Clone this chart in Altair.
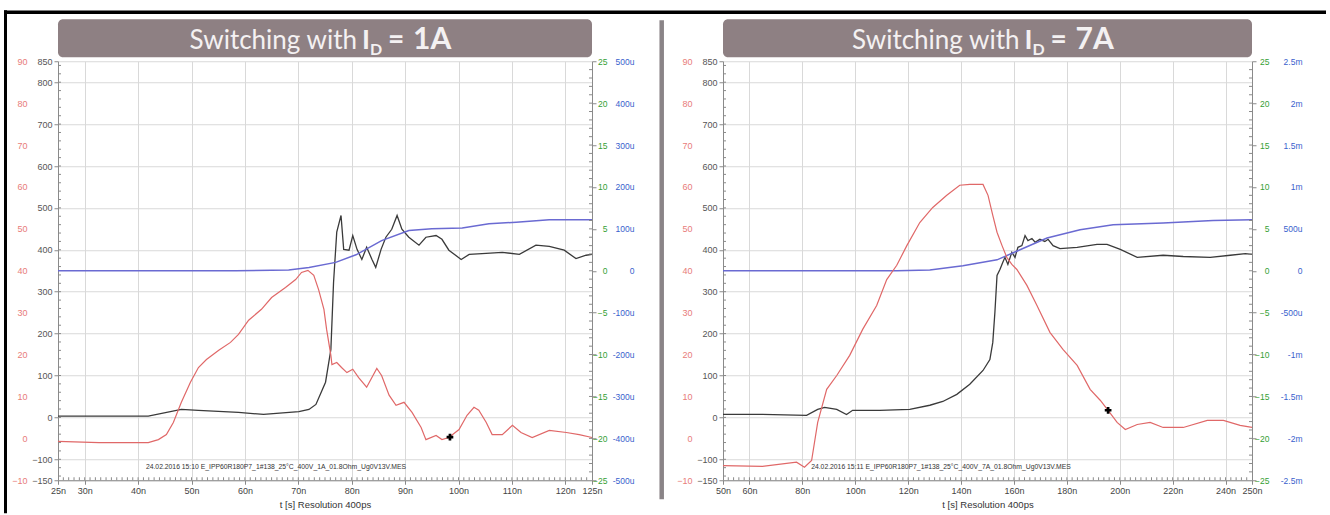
import altair as alt
import pandas as pd

# ---------------- data ----------------
# Left panel: I_D = 1A   (time in ns)
L_BLACK_T = [25, 41.9, 48.1, 51.3, 58.8, 63.5, 70.1, 72.0, 73.3, 75.1, 76.1, 76.6, 77.2, 78.0, 78.5,
             79.5, 80.2, 81.0, 81.9, 82.8, 83.8, 84.5, 85.5, 86.4, 87.5, 88.5, 89.4, 90.7, 92.6, 93.9,
             95.8, 96.9, 98.2, 100.5, 102.0, 104.4, 108.2, 111.4, 114.5, 117.0, 119.8, 122.0, 123.9, 125]
L_BLACK_V = [3, 3, 19, 17, 12, 7, 14, 19, 31, 84, 162, 322, 442, 482, 401,
             399, 434, 401, 377, 406, 377, 358, 401, 430, 449, 482, 449, 430, 411, 430,
             434, 425, 399, 377, 389, 391, 394, 389, 411, 408, 399, 379, 387, 389]
L_RED_T = [25, 32.7, 41.9, 43.8, 45.3, 46.6, 48.1, 49.8, 51.3, 52.8, 55.1, 57.3, 58.8, 60.7, 63.1,
           65.0, 67.6, 69.5, 70.6, 71.8, 72.9, 73.8, 74.8, 75.3, 76.1, 76.3, 77.2, 78.1, 79.1, 80.2,
           81.3, 82.8, 84.7, 85.6, 87.0, 88.3, 89.8, 91.3, 93.0, 93.9, 95.8, 96.9, 98.2, 100.1, 101.6,
           102.9, 103.8, 105.2, 106.3, 108.2, 110.1, 111.7, 113.8, 117.0, 120.2, 122.6, 125]
L_RED_V = [-0.7, -1.0, -1.0, -0.3, 0.9, 3.8, 8.6, 13.4, 16.9, 18.8, 21.0, 22.9, 24.8, 28.2, 30.8,
           33.6, 36.0, 37.9, 39.6, 40.1, 38.9, 35.5, 30.8, 26.0, 19.8, 17.6, 18.1, 16.9, 15.7, 16.5,
           14.5, 12.2, 16.7, 15.0, 10.3, 7.9, 8.6, 6.2, 2.6, -0.3, 0.7, -0.3, 0.2, 2.1, 5.5,
           7.4, 6.7, 3.8, 0.9, 0.9, 3.1, 1.4, 0.2, 1.9, 1.4, 0.9, 0.2]
L_BLUE_T = [25, 58.4, 68.2, 72.0, 77.0, 80.8, 85.6, 90.7, 95.0, 100.7, 105.7, 110.8, 117.0, 125]
L_BLUE_V = [0, 0, 2, 8, 20, 38, 72, 96, 100, 102, 112, 116, 122, 122]   # micro units
L_MARK_T = [98.4]
L_MARK_V = [0.3]

# Right panel: I_D = 7A
R_BLACK_T = [50, 64.9, 81.6, 85.8, 88.4, 93.0, 96.7, 99.0, 109.2, 120.6, 128.2, 133.1, 138.4, 143.3,
             148.3, 150.9, 152.0, 152.8, 153.6, 154.7, 155.8, 156.6, 157.7, 159.2, 160.4, 161.5, 163.0,
             164.2, 165.3, 166.8, 168.0, 169.8, 171.7, 172.9, 174.8, 177.4, 183.9, 191.4, 195.2, 200.2,
             206.6, 216.4, 224.0, 234.2, 241.8, 247.5, 250]
R_BLACK_V = [7, 7, 5, 19, 24, 19, 7, 17, 17, 19, 29, 38, 55, 79,
             112, 138, 179, 251, 339, 353, 370, 382, 365, 394, 382, 406, 410,
             434, 422, 427, 418, 425, 420, 425, 410, 403, 406, 413, 413, 401,
             382, 387, 384, 382, 387, 391, 389]
R_RED_T = [50, 64.9, 77.8, 80.8, 83.5, 85.8, 89.2, 93.0, 97.9, 102.8, 108.1, 111.9, 115.7, 119.5,
           124.4, 129.3, 134.6, 139.5, 143.3, 148.3, 150.2, 152.0, 153.6, 155.5, 157.3, 159.2, 161.1,
           164.9, 168.7, 173.6, 178.6, 183.9, 188.8, 192.6, 195.6, 199.0, 202.1, 206.6, 211.5, 216.4,
           224.0, 233.1, 239.2, 245.5, 250]
R_RED_V = [-6.5, -6.7, -5.7, -6.9, -5.3, 3.8, 11.7, 15.0, 19.8, 26.0, 31.7, 37.9, 41.3, 46.0,
           51.5, 55.1, 58.0, 60.4, 60.6, 60.6, 58.0, 53.2, 49.2, 46.0, 43.2, 41.5, 40.3,
           36.5, 31.7, 25.3, 21.2, 17.4, 11.7, 9.1, 6.7, 3.8, 2.1, 3.3, 3.8, 2.6,
           2.6, 4.3, 4.3, 3.1, 2.6]
R_BLUE_T = [50, 115.7, 128.2, 140.7, 153.6, 162.3, 172.5, 185.0, 197.5, 216.4, 235.3, 250]
R_BLUE_V = [0, 0, 10, 60, 130, 250, 390, 490, 550, 570, 600, 610]        # micro units
R_MARK_T = [195.6]
R_MARK_V = [6.7]

# axis tick values
BLACK_TICKS = [-150, -100, 0, 100, 200, 300, 400, 500, 600, 700, 800, 850]
BLACK_MINOR = list(range(-140, 850, 20))
RED_TICKS = list(range(-10, 91, 10))
GREEN_TICKS = list(range(-25, 26, 5))
GREEN_MINOR = list(range(-24, 25))
L_X_TICKS = [25, 30, 40, 50, 60, 70, 80, 90, 100, 110, 120, 125]
R_X_TICKS = [50, 60, 80, 100, 120, 140, 160, 180, 200, 220, 240, 250]
L_X_MINOR = list(range(26, 125))
R_X_MINOR = list(range(52, 250, 2))
L_BLUE_TICKS = list(range(-500, 501, 100))
R_BLUE_TICKS = list(range(-2500, 2501, 500))

L_INFO = "24.02.2016 15:10   E_IPP60R180P7_1#138_25°C_400V_1A_01.8Ohm_Ug0V13V.MES"
R_INFO = "24.02.2016 15:11   E_IPP60R180P7_1#138_25°C_400V_7A_01.8Ohm_Ug0V13V.MES"

# ---------------- style ----------------
FONT = "Liberation Sans"
TFONT = "Lato"
H = 419
W_L, W_R = 534, 529
GAP = 131
GRID = "#d9d9d9"
AX = "#8a8a8a"
BLACK = "#3a3a3a"
RED = "#e06868"
BLUE = "#6a6ad2"
RED_LBL = "#e87c7a"
GREEN_LBL = "#35a035"
BLUE_LBL = "#3a5fcd"
BOX = "#8e8083"
TXT = "#f4f1f2"

ONE = pd.DataFrame({"k": [0]})


def df(t, v):
    return pd.DataFrame({"t": t, "v": v})


def panel(W, xdom, xticks, xminor, bt, bv, rt, rv, ut, uv, mt, mv,
          bdom, bticks, bexpr, gpad, bpad, info, amp, left):
    xs = alt.Scale(domain=xdom, nice=False, zero=False)
    x_axis = alt.Axis(
        values=xticks, labelExpr="datum.value + 'n'", grid=True, gridColor=GRID,
        domainColor=AX, tickColor=AX, tickSize=4, labelPadding=2, labelFlush=False,
        labelOverlap=False, labelFont=FONT, labelFontSize=9, labelColor="#444",
        title="t [s]  Resolution 400ps", titleFont=FONT, titleFontSize=9.5,
        titleFontWeight="normal", titleColor="#333", titlePadding=4)

    def X():
        return alt.X("t:Q", scale=xs, axis=x_axis)

    ys_black = alt.Scale(domain=[-150, 850], nice=False, zero=False)
    ax_black = alt.Axis(
        orient="left", values=BLACK_TICKS, grid=True, gridColor=GRID, domainColor=AX,
        tickColor=AX, tickSize=4, labelPadding=2, labelOverlap=False, labelFont=FONT,
        labelFontSize=9, labelColor="#555", title=None)
    ys_red = alt.Scale(domain=[-10, 90], nice=False, zero=False)
    ax_red = alt.Axis(
        orient="left", values=RED_TICKS, ticks=False, tickSize=0, domain=False,
        grid=False, labelPadding=31, labelOverlap=False, labelFont=FONT,
        labelFontSize=9, labelColor=RED_LBL, title=None)
    ys_blue = alt.Scale(domain=bdom, nice=False, zero=False)
    ax_blue = alt.Axis(
        orient="right", values=bticks, labelExpr=bexpr, ticks=False, tickSize=0,
        domain=False, grid=False, labelAlign="right", labelPadding=bpad,
        labelOverlap=False, labelFont=FONT, labelFontSize=8.5, labelColor=BLUE_LBL,
        title=None)
    ys_green = alt.Scale(domain=[-25, 25], nice=False, zero=False)
    ax_green = alt.Axis(
        orient="right", values=GREEN_TICKS, grid=False, domainColor=AX, tickColor=AX,
        tickSize=4, labelAlign="right", labelPadding=gpad, labelOverlap=False,
        labelFont=FONT, labelFontSize=8.5, labelColor=GREEN_LBL, title=None)

    black_line = alt.Chart(df(bt, bv)).mark_line(color=BLACK, strokeWidth=1.3).encode(
        x=X(), y=alt.Y("v:Q", scale=ys_black, axis=ax_black))
    black_minor = alt.Chart(pd.DataFrame({"v": BLACK_MINOR})).mark_rule(color=AX).encode(
        y=alt.Y("v:Q", scale=ys_black, axis=ax_black), x=alt.value(0), x2=alt.value(3))
    x_minor = alt.Chart(pd.DataFrame({"t": xminor})).mark_rule(color=AX).encode(
        x=X(), y=alt.value(H - 3), y2=alt.value(H))
    black_group = alt.layer(black_line, black_minor, x_minor)

    blue_line = alt.Chart(df(ut, uv)).mark_line(color=BLUE, strokeWidth=1.5).encode(
        x=X(), y=alt.Y("v:Q", scale=ys_blue, axis=ax_blue))

    red_line = alt.Chart(df(rt, rv)).mark_line(color=RED, strokeWidth=1.2).encode(
        x=X(), y=alt.Y("v:Q", scale=ys_red, axis=ax_red))
    marker = alt.Chart(df(mt, mv)).mark_point(
        shape="cross", filled=True, color="black", size=45, opacity=1).encode(
        x=X(), y=alt.Y("v:Q", scale=ys_red, axis=ax_red))
    red_group = alt.layer(red_line, marker)

    green_axis = alt.Chart(pd.DataFrame({"v": GREEN_MINOR})).mark_rule(color=AX).encode(
        y=alt.Y("v:Q", scale=ys_green, axis=ax_green),
        x=alt.value(W - 3), x2=alt.value(W))

    # decorations: title banner, file info
    cx = W / 2
    box = alt.Chart(ONE).mark_rect(color=BOX, cornerRadius=5).encode(
        x=alt.value(0), x2=alt.value(W), y=alt.value(-42), y2=alt.value(-4))
    t1 = alt.Chart(ONE).mark_text(font=TFONT, fontSize=26, color=TXT, align="right",
                                  baseline="alphabetic").encode(
        x=alt.value(cx + 32), y=alt.value(-12), text=alt.value("Switching with"))
    t2 = alt.Chart(ONE).mark_text(font=TFONT, fontSize=27, fontWeight="bold", color=TXT,
                                  align="left", baseline="alphabetic").encode(
        x=alt.value(cx + 37), y=alt.value(-12), text=alt.value("I"))
    t3 = alt.Chart(ONE).mark_text(font=TFONT, fontSize=16, fontWeight="bold", color=TXT,
                                  align="left", baseline="alphabetic").encode(
        x=alt.value(cx + 45), y=alt.value(-6), text=alt.value("D"))
    t4 = alt.Chart(ONE).mark_text(font=TFONT, fontSize=28, fontWeight="bold", color=TXT,
                                  align="left", baseline="alphabetic").encode(
        x=alt.value(cx + 63), y=alt.value(-12), text=alt.value("="))
    t5 = alt.Chart(ONE).mark_text(font=TFONT, fontSize=30, fontWeight="bold", color=TXT,
                                  align="left", baseline="alphabetic").encode(
        x=alt.value(cx + 88), y=alt.value(-12), text=alt.value(amp))
    inf = alt.Chart(ONE).mark_text(font=FONT, fontSize=6.8, color="#333",
                                   align="center", baseline="middle").encode(
        x=alt.value(218), y=alt.value(406), text=alt.value(info))
    layers = [black_group, blue_line, red_group, green_axis, box, t1, t2, t3, t4, t5, inf]

    if left:
        top = alt.Chart(ONE).mark_rule(color="black", strokeWidth=3.5).encode(
            x=alt.value(-54), x2=alt.value(1268), y=alt.value(-49))
        lft = alt.Chart(ONE).mark_rule(color="black", strokeWidth=3).encode(
            x=alt.value(-52.5), y=alt.value(-51), y2=alt.value(452))
        sep = alt.Chart(ONE).mark_rule(color="#8a8487", strokeWidth=4.5).encode(
            x=alt.value(603.7), y=alt.value(-41), y2=alt.value(438))
        layers += [top, lft, sep]

    return alt.layer(*layers).resolve_scale(y="independent").properties(width=W, height=H)


left = panel(W_L, [25, 125], L_X_TICKS, L_X_MINOR, L_BLACK_T, L_BLACK_V, L_RED_T, L_RED_V,
             L_BLUE_T, L_BLUE_V, L_MARK_T, L_MARK_V, [-500, 500], L_BLUE_TICKS,
             "datum.value == 0 ? '0' : datum.value + 'u'", 11, 42, L_INFO, "1A", True)
right = panel(W_R, [50, 250], R_X_TICKS, R_X_MINOR, R_BLACK_T, R_BLACK_V, R_RED_T, R_RED_V,
              R_BLUE_T, R_BLUE_V, R_MARK_T, R_MARK_V, [-2500, 2500], R_BLUE_TICKS,
              "datum.value == 0 ? '0' : (abs(datum.value) >= 1000 ? (datum.value / 1000) + 'm' : datum.value + 'u')",
              13, 50, R_INFO, "7A", False)

chart = alt.hconcat(left, right, spacing=GAP, bounds="flush").properties(
    padding={"left": 2, "top": 8.25, "right": 0, "bottom": 0},
    background="white",
).configure_view(strokeWidth=0)

chart.save("out.html", embed_options={"renderer": "svg", "actions": False})
